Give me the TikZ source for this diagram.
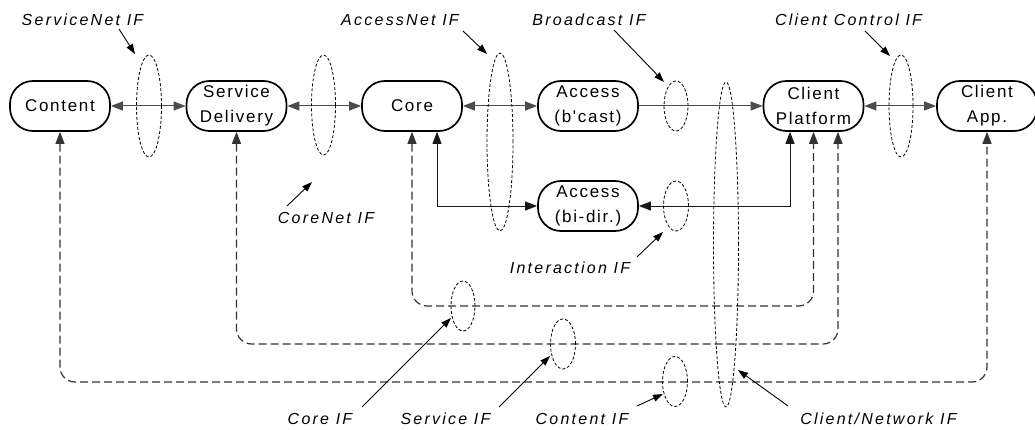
\documentclass[tikz,border=0pt]{standalone}
\usepackage{fontspec}
\setmainfont{Liberation Sans}
\newfontfamily\nodefont[LetterSpace=10]{Liberation Sans}
\newfontfamily\lblfont[LetterSpace=14]{Liberation Sans}
\usetikzlibrary{arrows.meta,shapes.geometric}
\begin{document}
\begin{tikzpicture}[x=1pt,y=-1pt,
  blk/.style={draw,line width=1.7pt,rounded corners=23pt,minimum width=100pt,minimum height=50pt,
    inner sep=0pt,align=center,font=\nodefont\fontsize{17}{25}\selectfont},
  ifell/.style={ellipse,draw,line width=0.8pt,dash pattern=on 3pt off 2pt,inner sep=0pt},
  lbl/.style={anchor=base,inner sep=0pt,font=\lblfont\itshape\fontsize{16}{18}\selectfont},
  link/.style={line width=1pt,draw=black!70,{Triangle[length=12pt,width=9pt]}-{Triangle[length=12pt,width=9pt]}},
  linkone/.style={line width=1pt,draw=black!70,-{Triangle[length=12pt,width=9pt]}},
  loopline/.style={line width=1.2pt,draw=black!80,dash pattern=on 8pt off 4pt,rounded corners=15pt,
    {Triangle[length=12pt,width=9pt]}-{Triangle[length=12pt,width=9pt]}},
  annot/.style={line width=0.9pt,-{Triangle[length=10pt,width=7pt]}}]
\useasboundingbox (0,0) rectangle (1035,430);

% nodes
\node[blk] (content) at (60,106) {Content};
\node[blk] (sd) at (236.5,106) {Service\\Delivery};
\node[blk] (core) at (412,106) {Core};
\node[blk] (bcast) at (588,106) {Access\\(b'cast)};
\node[blk] (cp) at (813.5,106) {Client\\Platform};
\node[blk] (app) at (987,106) {Client\\App.};
\node[blk] (bidir) at (588,206) {Access\\(bi-dir.)};

% top-row links
\draw[link] (content.east) -- (sd.west);
\draw[link] (sd.east) -- (core.west);
\draw[link] (core.east) -- (bcast.west);
\draw[linkone] (bcast.east) -- (cp.west);
\draw[link] (cp.east) -- (app.west);

% bi-directional access links
\draw[link,draw=black!90,line width=0.9pt] ([xshift=25pt]core.south) |- (bidir.west);
\draw[link,draw=black!90,line width=0.9pt] (bidir.east) -| ([xshift=-23.5pt]cp.south);

% dashed loops
\coordinate (yc) at (0,306);
\coordinate (ys) at (0,344);
\coordinate (yt) at (0,382);
\draw[loopline] (core.south) -- (core.south |- yc) -- (cp.south |- yc) -- (cp.south);
\draw[loopline] (sd.south) -- (sd.south |- ys) -- ([xshift=24.5pt]cp.south |- ys) -- ([xshift=24.5pt]cp.south);
\draw[loopline] (content.south) -- (content.south |- yt) -- (app.south |- yt) -- (app.south);

% interface ellipses
\node[ifell,minimum width=25pt,minimum height=102pt] (eSN) at (149,106) {};
\node[ifell,minimum width=24pt,minimum height=100pt] (eCN) at (323.5,105) {};
\node[ifell,minimum width=26pt,minimum height=178pt] (eAN) at (500,142) {};
\node[ifell,minimum width=24pt,minimum height=50pt] (eBC) at (676,106) {};
\node[ifell,minimum width=24pt,minimum height=102pt] (eCC) at (901,106) {};
\node[ifell,minimum width=25pt,minimum height=325pt] (eCL) at (726,244.5) {};
\node[ifell,minimum width=25pt,minimum height=50pt] (eIA) at (676,206) {};
\node[ifell,minimum width=24pt,minimum height=50pt] (eCO) at (463,306) {};
\node[ifell,minimum width=25pt,minimum height=50pt] (eSV) at (563,344) {};
\node[ifell,minimum width=25pt,minimum height=50pt] (eCT) at (675,381.5) {};

% labels
\node[lbl] (lSN) at (82.5,25.5) {ServiceNet IF};
\node[lbl] (lAN) at (400,25.5) {AccessNet IF};
\node[lbl] (lBC) at (589,25.5) {Broadcast IF};
\node[lbl] (lCC) at (848.5,25.5) {Client Control IF};
\node[lbl] (lCN) at (326,223.3) {CoreNet IF};
\node[lbl] (lIA) at (570,273.3) {Interaction IF};
\node[lbl] (lCO) at (320,424) {Core IF};
\node[lbl] (lSV) at (445.5,424) {Service IF};
\node[lbl] (lCT) at (582,424) {Content IF};
\node[lbl] (lCL) at (878.5,424) {Client/Network IF};

% annotation arrows
\coordinate (aSN) at (119,29);   \coordinate (tSN) at (135,54);
\coordinate (aAN) at (463,31);   \coordinate (tAN) at (487,54);
\coordinate (aBC) at (614,30);   \coordinate (tBC) at (664,82);
\coordinate (aCC) at (865,31);   \coordinate (tCC) at (890,56);
\coordinate (aCN) at (287,206);  \coordinate (tCN) at (312,182);
\coordinate (aIA) at (637,257);  \coordinate (tIA) at (663,232);
\coordinate (aCO) at (362,407);  \coordinate (tCO) at (451,318);
\coordinate (aSV) at (499,407);  \coordinate (tSV) at (550,356);
\coordinate (aCT) at (637,406);  \coordinate (tCT) at (663,394);
\coordinate (aCL) at (788,406);  \coordinate (tCL) at (738,370);
\foreach \k in {SN,AN,BC,CC,CN,IA,CO,SV,CT,CL}
  \draw[annot] (a\k) -- (t\k);
\end{tikzpicture}
\end{document}
